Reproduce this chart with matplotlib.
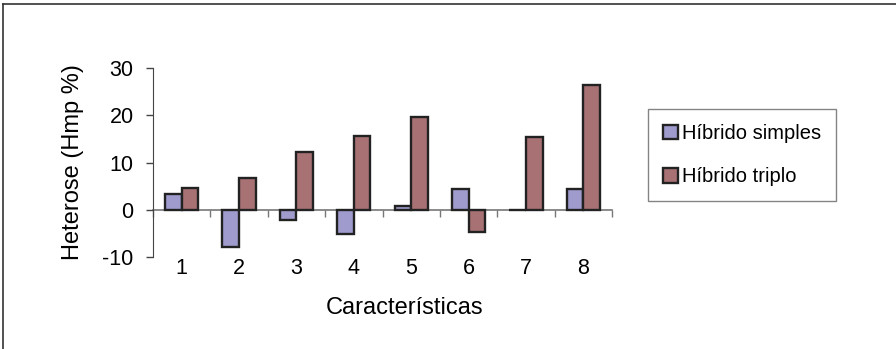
import matplotlib
matplotlib.use("Agg")
import matplotlib.pyplot as plt
from matplotlib.lines import Line2D
import numpy as np

plt.rcParams["font.family"] = ["Liberation Sans", "DejaVu Sans"]
plt.rcParams["axes.unicode_minus"] = False

categories = ["1", "2", "3", "4", "5", "6", "7", "8"]
hibrido_simples = [3.4, -7.8, -2.1, -5.2, 0.9, 4.3, 0.0, 4.5]
hibrido_triplo = [4.6, 6.7, 12.3, 15.7, 19.7, -4.7, 15.5, 26.4]
y_ticks = [-10, 0, 10, 20, 30]

fig = plt.figure(figsize=(8.96, 3.49), dpi=100)
ax = fig.add_axes([0.1708, 0.2636, 0.683 - 0.1708, 0.805 - 0.2636])

x = np.arange(1, len(categories) + 1)
w = 0.29
ax.bar(x - w / 2, hibrido_simples, w, color="#9f9bcd", edgecolor="#222222",
       linewidth=1.7, label="Híbrido simples", zorder=3)
ax.bar(x + w / 2, hibrido_triplo, w, color="#a87274", edgecolor="#222222",
       linewidth=1.7, label="Híbrido triplo", zorder=3)

ax.set_xlim(0.5, len(categories) + 0.5)
ax.set_ylim(-10, 30)
ax.set_yticks(y_ticks)
ax.tick_params(axis="y", direction="out", length=5, width=1, color="#444444",
               labelsize=15.5, pad=9)

# category labels sit below the plot area, axis line itself at y = 0
ax.set_xticks(x)
ax.set_xticklabels(categories)
ax.tick_params(axis="x", length=0, labelsize=15.5, pad=1)

for side in ["top", "right", "bottom"]:
    ax.spines[side].set_visible(False)
ax.spines["left"].set_color("#444444")

zero_axis = ax.secondary_xaxis(0.25)
zero_axis.set_xticks(np.arange(0.5, len(categories) + 1.5, 1.0))
zero_axis.set_xticklabels([])
zero_axis.tick_params(direction="out", length=5, width=1, color="#777777")
zero_axis.spines["bottom"].set_color("#777777")
zero_axis.spines["bottom"].set_linewidth(1.2)

ax.set_ylabel("Heterose (Hmp %)", fontsize=17, labelpad=13)
ax.set_xlabel("Características", fontsize=17, labelpad=13)
ax.xaxis.label.set_x(0.549)

leg = ax.legend(loc="upper left", bbox_to_anchor=(0.723, 0.688),
                bbox_transform=fig.transFigure, fontsize=14.5, fancybox=False,
                frameon=True, edgecolor="#666666", handlelength=0.75,
                handleheight=0.75, handletextpad=0.2, labelspacing=1.2,
                borderpad=0.75, borderaxespad=0)
leg.get_frame().set_linewidth(1.0)

# outer chart border (left and top)
fig.add_artist(Line2D([0.0035, 0.0035], [0.0, 0.989], transform=fig.transFigure,
                      color="#333333", linewidth=1.2))
fig.add_artist(Line2D([0.0035, 1.0], [0.989, 0.989], transform=fig.transFigure,
                      color="#333333", linewidth=1.2))

fig.savefig("out.png", dpi=100)
